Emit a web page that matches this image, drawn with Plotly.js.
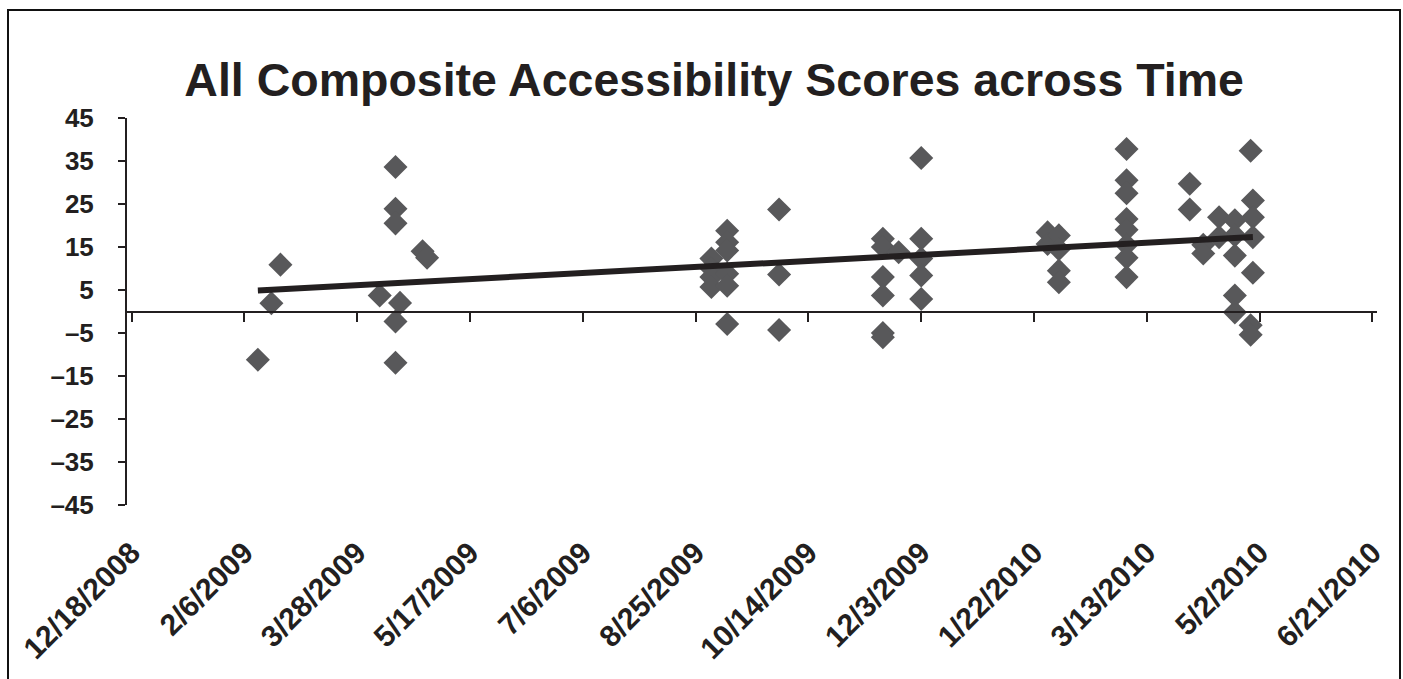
<!DOCTYPE html>
<html>
<head>
<meta charset="utf-8">
<script src="https://cdn.plot.ly/plotly-3.0.1.min.js"></script>
<style>
  html, body { margin: 0; padding: 0; background: #ffffff; }
  #frame { position: absolute; left: 7px; top: 9px; width: 1390px; height: 700px;
           border-top: 2px solid #111; border-left: 2px solid #111; border-right: 2px solid #111; }
  #chart { position: absolute; left: 0; top: 0; width: 1403px; height: 679px; }
</style>
</head>
<body>
<div id="frame"></div>
<div id="chart"></div>
<script>
// ---- data ----
const dates = [
  '2009-02-12','2009-02-18','2009-02-22',
  '2009-04-07','2009-04-14','2009-04-14','2009-04-14','2009-04-14','2009-04-14','2009-04-16','2009-04-26','2009-04-28',
  '2009-09-01','2009-09-01','2009-09-01','2009-09-01',
  '2009-09-08','2009-09-08','2009-09-08','2009-09-08','2009-09-08','2009-09-08',
  '2009-10-01','2009-10-01','2009-10-01',
  '2009-11-16','2009-11-16','2009-11-16','2009-11-16','2009-11-16','2009-11-16','2009-11-23',
  '2009-12-03','2009-12-03','2009-12-03','2009-12-03','2009-12-03',
  '2010-01-28','2010-01-28','2010-02-02','2010-02-02','2010-02-02','2010-02-02',
  '2010-03-04','2010-03-04','2010-03-04','2010-03-04','2010-03-04','2010-03-04','2010-03-04','2010-03-04',
  '2010-04-01','2010-04-01','2010-04-07','2010-04-07','2010-04-14','2010-04-14',
  '2010-04-21','2010-04-21','2010-04-21','2010-04-21','2010-04-21',
  '2010-04-28','2010-04-28','2010-04-28',
  '2010-04-29','2010-04-29','2010-04-29','2010-04-29'
];
const scores = [
  -11.2, 1.9, 10.9,
  3.7, 33.6, 23.9, 20.5, -2.3, -11.9, 2.0, 14.0, 12.5,
  12.3, 10.0, 8.0, 5.7,
  18.8, 16.1, 14.2, 8.8, 6.0, -2.9,
  23.7, 8.6, -4.3,
  16.9, 15.0, 8.0, 3.7, -5.0, -6.0, 13.8,
  35.7, 16.9, 12.3, 8.4, 2.9,
  18.4, 15.7, 17.7, 14.5, 9.5, 6.8,
  37.8, 30.5, 27.5, 21.5, 19.0, 15.5, 12.5, 8.0,
  29.7, 23.7, 15.5, 13.5, 21.9, 17.3,
  21.2, 17.7, 13.0, 3.7, -0.2,
  37.4, -3.2, -5.4,
  25.8, 21.9, 17.3, 9.0
];
// linear trendline as drawn in the reference: value at first and last data date
const trendValues = [4.9, 17.3];

const xTickVals = ['2008-12-18','2009-02-06','2009-03-28','2009-05-17','2009-07-06','2009-08-25',
                   '2009-10-14','2009-12-03','2010-01-22','2010-03-13','2010-05-02','2010-06-21'];
const xTickText = ['12/18/2008','2/6/2009','3/28/2009','5/17/2009','7/6/2009','8/25/2009',
                   '10/14/2009','12/3/2009','1/22/2010','3/13/2010','5/2/2010','6/21/2010'];
const yTickVals = [-45, -35, -25, -15, -5, 5, 15, 25, 35, 45];
const yTickText = ['\u201345','\u201335','\u201325','\u201315','\u20135','5','15','25','35','45'];
const xRange = ['2008-12-16', '2010-06-23'];
const chartTitle = 'All Composite Accessibility Scores across Time';

const sortedDates = dates.slice().sort();
const trendX = [sortedDates[0], sortedDates[sortedDates.length - 1]];

const font = 'Liberation Sans, Arial, sans-serif';

const traces = [
  {
    type: 'scatter', mode: 'markers', x: dates, y: scores,
    marker: { symbol: 'diamond', size: 18.5, color: '#58585a', line: { width: 0 } },
    xaxis: 'x', yaxis: 'y', hoverinfo: 'x+y', cliponaxis: false
  },
  {
    type: 'scatter', mode: 'lines', x: trendX, y: trendValues,
    line: { color: '#231f20', width: 6 },
    xaxis: 'x2', yaxis: 'y', hoverinfo: 'skip'
  }
];

const layout = {
  width: 1403, height: 679,
  paper_bgcolor: 'rgba(0,0,0,0)', plot_bgcolor: 'rgba(0,0,0,0)',
  margin: { l: 127, r: 26, t: 118, b: 174 },
  showlegend: false,
  title: {
    text: chartTitle, x: 0.509, xanchor: 'center', xref: 'container',
    y: 0.882, yanchor: 'middle',
    font: { family: font, size: 46.5, color: '#231f20', weight: 'bold' }
  },
  xaxis: {
    type: 'date', range: xRange,
    tickmode: 'array', tickvals: xTickVals, ticktext: xTickText,
    tickangle: -45, ticks: '', showline: false, showgrid: false, zeroline: false,
    ticklabelstandoff: 23,
    tickfont: { family: font, size: 30, color: '#231f20', weight: 'bold' }
  },
  xaxis2: {
    type: 'date', range: xRange, overlaying: 'x', anchor: 'free', position: 0.5,
    tickmode: 'array', tickvals: xTickVals,
    ticks: 'outside', ticklen: 9, tickwidth: 2, tickcolor: '#231f20',
    showline: true, linecolor: '#231f20', linewidth: 2,
    showticklabels: false, showgrid: false, zeroline: false
  },
  yaxis: {
    range: [-45, 45], tickmode: 'array', tickvals: yTickVals, ticktext: yTickText,
    ticks: 'outside', ticklen: 7, tickwidth: 2, tickcolor: '#231f20',
    showline: true, linecolor: '#231f20', linewidth: 2,
    showgrid: false, zeroline: false, ticklabelstandoff: 19,
    tickfont: { family: font, size: 26, color: '#231f20', weight: 'bold' }
  }
};

Plotly.newPlot('chart', traces, layout, { displayModeBar: false, staticPlot: true });
</script>
</body>
</html>
